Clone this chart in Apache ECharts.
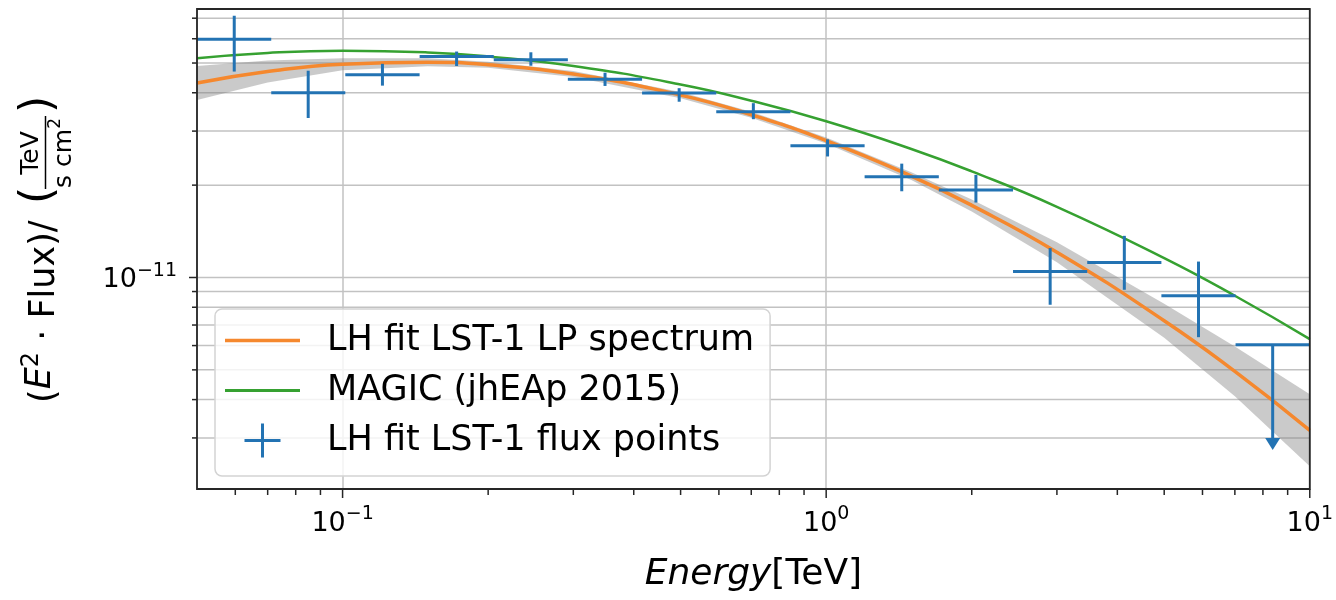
<!DOCTYPE html>
<html><head><meta charset="utf-8">
<script src="https://cdn.jsdelivr.net/npm/echarts@6/dist/echarts.min.js"></script>
<style>html,body{margin:0;padding:0;background:#fff}#c{width:1336px;height:600px}</style>
</head><body><div id="c"></div>
<script>
// ---- Flux points (E in TeV, E^2 dN/dE in TeV cm^-2 s^-1) ----
const fluxE    = [0.0597,0.0849,0.1209,0.1721,0.2451,0.3489,0.4966,0.7070,1.0066,1.4331,2.0400,2.9050,4.1354,5.8869,8.3807];
const fluxEmin = [0.05,0.0712,0.1013,0.1443,0.2054,0.2923,0.4162,0.5925,0.8435,1.2008,1.7097,2.4342,3.4656,4.9336,7.0233];
const fluxEmax = [0.0712,0.1013,0.1443,0.2054,0.2923,0.4162,0.5925,0.8435,1.2008,1.7097,2.4342,3.4656,4.9336,7.0233,10.0];
const fluxVal  = [5.98e-11,4.00e-11,4.58e-11,5.25e-11,5.12e-11,4.43e-11,3.99e-11,3.47e-11,2.69e-11,2.13e-11,1.93e-11,1.046e-11,1.119e-11,8.72e-12,6.04e-12];
const fluxLo   = [4.69e-11,3.31e-11,4.22e-11,4.89e-11,4.90e-11,4.21e-11,3.74e-11,3.28e-11,2.48e-11,1.91e-11,1.755e-11,8.15e-12,9.12e-12,6.39e-12,null];
const fluxHi   = [7.13e-11,4.72e-11,4.97e-11,5.45e-11,5.42e-11,4.65e-11,4.14e-11,3.70e-11,2.82e-11,2.35e-11,2.16e-11,1.247e-11,1.367e-11,1.127e-11,null];
const fluxIsUL = [0,0,0,0,0,0,0,0,0,0,0,0,0,0,1];

// ---- Model curves ----
const curveE   = [0.05,0.07,0.1,0.15,0.2,0.3,0.5,0.7,1,1.5,2,3,5,7,10];
const lpVal    = [4.302e-11,4.69e-11,4.955e-11,5.03e-11,4.936e-11,4.603e-11,3.93e-11,3.392e-11,2.794e-11,2.14e-11,1.718e-11,1.209e-11,7.23e-12,4.94e-12,3.176e-12];
const lpLo     = [3.787e-11,4.319e-11,4.737e-11,4.881e-11,4.826e-11,4.50e-11,3.842e-11,3.316e-11,2.732e-11,2.077e-11,1.642e-11,1.122e-11,6.36e-12,4.10e-12,2.425e-12];
const lpHi     = [4.887e-11,5.093e-11,5.183e-11,5.183e-11,5.049e-11,4.708e-11,4.02e-11,3.469e-11,2.858e-11,2.205e-11,1.797e-11,1.303e-11,8.21e-12,5.96e-12,4.16e-12];
const magicVal = [5.183e-11,5.395e-11,5.485e-11,5.415e-11,5.254e-11,4.892e-11,4.256e-11,3.768e-11,3.23e-11,2.624e-11,2.218e-11,1.70e-11,1.157e-11,8.72e-12,6.30e-12];

// ---- Axis ticks ----
const xMajorTicks = [0.1,1,10];
const xMinorTicks = [0.06,0.07,0.08,0.09,0.2,0.3,0.4,0.5,0.6,0.7,0.8,0.9,2,3,4,5,6,7,8,9];
const yMajorTicks = [1e-11];
const yMinorTicks = [3e-12,4e-12,5e-12,6e-12,7e-12,8e-12,9e-12,2e-11,3e-11,4e-11,5e-11,6e-11,7e-11];

const seriesNames = ['LH fit LST-1 LP spectrum','MAGIC (jhEAp 2015)','LH fit LST-1 flux points'];

const FONT = 'DejaVu Sans';
const ORANGE = '#f5882e', GREEN = '#36a131', BLUE = '#2373b3';
const GRIDC = '#c2c2c2', SPINE = '#262626';

function isPow10(v){ const l = Math.log10(v); return Math.abs(l - Math.round(l)) < 1e-6; }
function supFmt(v){
  if (!isPow10(v)) return '';
  const e = Math.round(Math.log10(v));
  return '{b|10}{s|' + (e < 0 ? '\u2212' + (-e) : String(e)) + '}';
}
const tickRich = {
  b: {fontFamily: FONT, fontSize: 27, color: '#000', padding: [5,0,0,0]},
  s: {fontFamily: FONT, fontSize: 19, color: '#000', verticalAlign: 'top'}
};

function renderYGrid(params, api){
  const cs = params.coordSys;
  const y = api.coord([1, api.value(1)])[1];
  const major = api.value(2) === 1;
  return {type:'group', children:[
    {type:'line', shape:{x1:cs.x, y1:y, x2:cs.x+cs.width, y2:y}, style:{stroke:GRIDC, lineWidth:1.5}},
    {type:'line', shape:{x1:cs.x-(major?8:5), y1:y, x2:cs.x, y2:y}, style:{stroke:SPINE, lineWidth:1.5}}
  ]};
}
function renderXTick(params, api){
  const cs = params.coordSys;
  const x = api.coord([api.value(0), 1e-11])[0];
  const b = cs.y + cs.height;
  const len = api.value(2) === 1 ? 9 : 6;
  return {type:'line', shape:{x1:x, y1:b, x2:x, y2:b+len}, style:{stroke:SPINE, lineWidth:1.5}};
}
function renderBand(params, api){
  if (params.dataIndex !== 0) return null;
  const pts = [];
  for (let i = 0; i < curveE.length; i++) pts.push(api.coord([curveE[i], lpHi[i]]));
  for (let i = curveE.length - 1; i >= 0; i--) pts.push(api.coord([curveE[i], lpLo[i]]));
  return {type:'polygon', shape:{points:pts}, style:{fill:'rgba(128,128,128,0.42)'}};
}
function renderFlux(params, api){
  const i = params.dataIndex;
  const x = api.value(0), y = api.value(1);
  const c = api.coord([x, y]);
  const l = api.coord([fluxEmin[i], y]);
  const r = api.coord([fluxEmax[i], y]);
  const st = {stroke: BLUE, lineWidth: 3};
  const ch = [{type:'line', shape:{x1:l[0], y1:c[1], x2:r[0], y2:c[1]}, style:st}];
  if (fluxIsUL[i]) {
    const end = api.coord([x, y * 0.5]);
    ch.push({type:'line', shape:{x1:c[0], y1:c[1], x2:c[0], y2:end[1]+2}, style:st});
    ch.push({type:'polygon', shape:{points:[[c[0]-7.5,end[1]+1],[c[0]+7.5,end[1]+1],[c[0],end[1]+13]]}, style:{fill:BLUE}});
  } else {
    const lo = api.coord([x, fluxLo[i]]), hi = api.coord([x, fluxHi[i]]);
    ch.push({type:'line', shape:{x1:c[0], y1:hi[1], x2:c[0], y2:lo[1]}, style:st});
  }
  return {type:'group', children:ch};
}
function renderFrame(params, api){
  if (params.dataIndex !== 0) return null;
  const cs = params.coordSys;
  return {type:'rect', shape:{x:cs.x, y:cs.y, width:cs.width, height:cs.height}, style:{fill:'none', stroke:SPINE, lineWidth:1.8}};
}

const chart = echarts.init(document.getElementById('c'), null, {renderer:'canvas'});
const labRich = {
  it: {fontFamily: FONT, fontSize: 35, fontStyle: 'italic', color: '#000'},
  sup: {fontFamily: FONT, fontSize: 24, color: '#000', verticalAlign: 'top'},
  n: {fontFamily: FONT, fontSize: 35, color: '#000', padding: [8,0,0,0]}
};
const denRich = {
  n: {fontFamily: FONT, fontSize: 25, color: '#000', padding: [5,0,0,0]},
  sup: {fontFamily: FONT, fontSize: 17, color: '#000', verticalAlign: 'top'}
};

chart.setOption({
  animation: false,
  backgroundColor: '#fff',
  grid: {left: 197, right: 26, top: 9, bottom: 111, containLabel: false, show: false},
  xAxis: {
    type: 'log', logBase: 10, min: 0.05, max: 10,
    axisLine: {show: false}, axisTick: {show: false},
    splitLine: {show: true, lineStyle: {color: GRIDC, width: 1.5}},
    axisLabel: {formatter: supFmt, margin: 16, rich: tickRich, fontFamily: FONT, fontSize: 27, color: '#000'},
    name: '{it|Energy}[TeV]', nameLocation: 'middle', nameGap: 68,
    nameTextStyle: {fontFamily: FONT, fontSize: 36, color: '#000', lineHeight: 36,
      rich: {it: {fontFamily: FONT, fontSize: 36, fontStyle: 'italic', color: '#000'}}}
  },
  yAxis: {
    type: 'log', logBase: 10, min: 2.045e-12, max: 7.5e-11,
    axisLine: {show: false}, axisTick: {show: false}, splitLine: {show: false},
    axisLabel: {formatter: supFmt, margin: 20, rich: tickRich, fontFamily: FONT, fontSize: 27, color: '#000'}
  },
  legend: {
    orient: 'vertical', left: 215, top: 309,
    padding: [14, 16, 18, 10], itemGap: 15, itemWidth: 75, itemHeight: 34,
    backgroundColor: 'rgba(255,255,255,0.8)', borderColor: '#d3d3d3', borderWidth: 1.5, borderRadius: 7,
    selectedMode: false,
    itemStyle: {borderWidth: 0},
    textStyle: {fontFamily: FONT, fontSize: 35, color: '#000', padding: [0,0,0,22], lineHeight: 34},
    data: [
      {name: seriesNames[0], icon: 'path://M0,0H75V3.5H0Z', itemStyle: {color: ORANGE}},
      {name: seriesNames[1], icon: 'path://M0,0H75V3H0Z', itemStyle: {color: GREEN}},
      {name: seriesNames[2], icon: 'path://M0,15.5H36V18.5H0Z M16.5,0H19.5V34H16.5Z', itemStyle: {color: BLUE}}
    ],
    z: 20
  },
  graphic: [
    {type:'text', x:41, y:403, rotation:Math.PI/2, z:10,
     style:{text:'{n|(}{it|E}{sup|2}{n| · Flux)/}', fontFamily:FONT, fontSize:35, fill:'#000', align:'left', verticalAlign:'middle', rich:labRich}},
    {type:'text', x:40, y:204, rotation:Math.PI/2, z:10,
     style:{text:'(', fontFamily:FONT, fontSize:44, fill:'#000', align:'left', verticalAlign:'middle'}},
    {type:'text', x:31, y:153, rotation:Math.PI/2, z:10,
     style:{text:'TeV', fontFamily:FONT, fontSize:25, fill:'#000', align:'center', verticalAlign:'middle'}},
    {type:'line', shape:{x1:45.5, y1:116, x2:45.5, y2:189}, z:10, style:{stroke:'#000', lineWidth:1.5}},
    {type:'text', x:62, y:153, rotation:Math.PI/2, z:10,
     style:{text:'{n|s cm}{sup|2}', fontFamily:FONT, fontSize:25, fill:'#000', align:'center', verticalAlign:'middle', rich:denRich}},
    {type:'text', x:40, y:113, rotation:Math.PI/2, z:10,
     style:{text:')', fontFamily:FONT, fontSize:44, fill:'#000', align:'left', verticalAlign:'middle'}}
  ],
  series: [
    {type:'custom', name:'_ygrid', coordinateSystem:'cartesian2d', renderItem: renderYGrid, silent:true, z:1,
     encode:{x:0, y:1},
     data: yMajorTicks.map(v => [1, v, 1]).concat(yMinorTicks.map(v => [1, v, 0]))},
    {type:'custom', name:'_xticks', coordinateSystem:'cartesian2d', renderItem: renderXTick, silent:true, z:1,
     encode:{x:0, y:1},
     data: xMajorTicks.map(v => [v, 1e-11, 1]).concat(xMinorTicks.map(v => [v, 1e-11, 0]))},
    {type:'custom', name:'_band', coordinateSystem:'cartesian2d', renderItem: renderBand, silent:true, z:2, clip:true,
     encode:{x:0, y:1},
     data: curveE.map((e, i) => [e, lpVal[i]])},
    {type:'line', name: seriesNames[0], data: curveE.map((e, i) => [e, lpVal[i]]), smooth: true, symbol:'none',
     lineStyle:{color: ORANGE, width: 3.5}, itemStyle:{color: ORANGE}, z:4, silent:true},
    {type:'line', name: seriesNames[1], data: curveE.map((e, i) => [e, magicVal[i]]), smooth: true, symbol:'none',
     lineStyle:{color: GREEN, width: 2.5}, itemStyle:{color: GREEN}, z:3, silent:true},
    {type:'custom', name: seriesNames[2], coordinateSystem:'cartesian2d', renderItem: renderFlux, z:5, clip:true,
     itemStyle:{color: BLUE}, encode:{x:0, y:1},
     data: fluxE.map((e, i) => [e, fluxVal[i]])},
    {type:'custom', name:'_frame', coordinateSystem:'cartesian2d', renderItem: renderFrame, silent:true, z:30,
     encode:{x:0, y:1}, data: [[1, 1e-11]]}
  ]
});
</script>
</body></html>
